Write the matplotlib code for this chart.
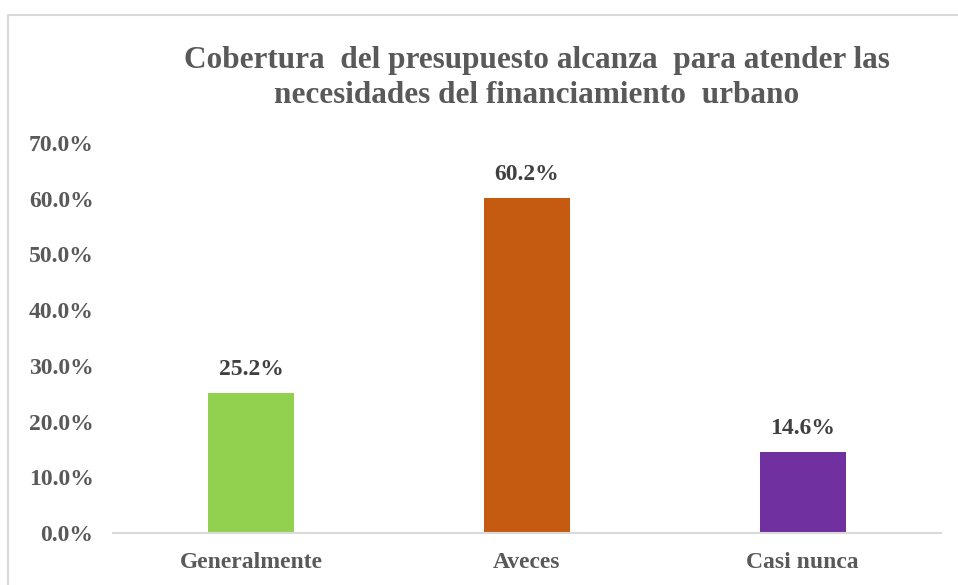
import matplotlib.pyplot as plt
from matplotlib.patches import Rectangle

# data
categories = ["Generalmente", "Aveces", "Casi nunca"]
values = [25.2, 60.2, 14.6]
colors = ["#92D050", "#C55A11", "#7030A0"]
yticks = [0, 10, 20, 30, 40, 50, 60, 70]

plt.rcParams['font.family'] = ['Liberation Serif', 'DejaVu Serif']

fig = plt.figure(figsize=(9.58, 5.85), dpi=100)
ax = fig.add_axes([0.118, 0.0889, 0.864, 0.6667])

x = range(len(categories))
bars = ax.bar(x, values, width=0.31, color=colors)

for b, v in zip(bars, values):
    ax.annotate(f"{v:.1f}%", (b.get_x() + b.get_width() / 2, v),
                xytext=(0, 9), textcoords="offset points",
                ha="center", va="bottom", fontsize=17, fontweight="bold",
                color="#404040")

ax.set_xlim(-0.5, 2.5)
ax.set_ylim(0, 70)
ax.set_yticks(yticks)
ax.set_yticklabels([f"{t:.1f}%" for t in yticks])
ax.set_xticks(list(x))
ax.set_xticklabels(categories)

for lab in ax.get_yticklabels() + ax.get_xticklabels():
    lab.set_fontsize(17)
    lab.set_fontweight("bold")
    lab.set_color("#595959")

ax.tick_params(axis="both", length=0)
ax.tick_params(axis="y", pad=14)
ax.tick_params(axis="x", pad=14)
for s in ["top", "right", "left"]:
    ax.spines[s].set_visible(False)
ax.spines["bottom"].set_color("#D9D9D9")
ax.spines["bottom"].set_linewidth(1.5)

fig.text(0.56, 0.867, "Cobertura  del presupuesto alcanza  para atender las\nnecesidades del financiamiento  urbano",
         ha="center", va="center", fontsize=22.5, fontweight="bold",
         color="#595959", linespacing=1.28)

# chart border
fig.patches.append(Rectangle((8 / 958, -0.1), 1.0, 1 - 15 / 585 + 0.1,
                             transform=fig.transFigure, fill=False,
                             edgecolor="#D9D9D9", linewidth=1.5))

fig.savefig("out.png", dpi=100)
